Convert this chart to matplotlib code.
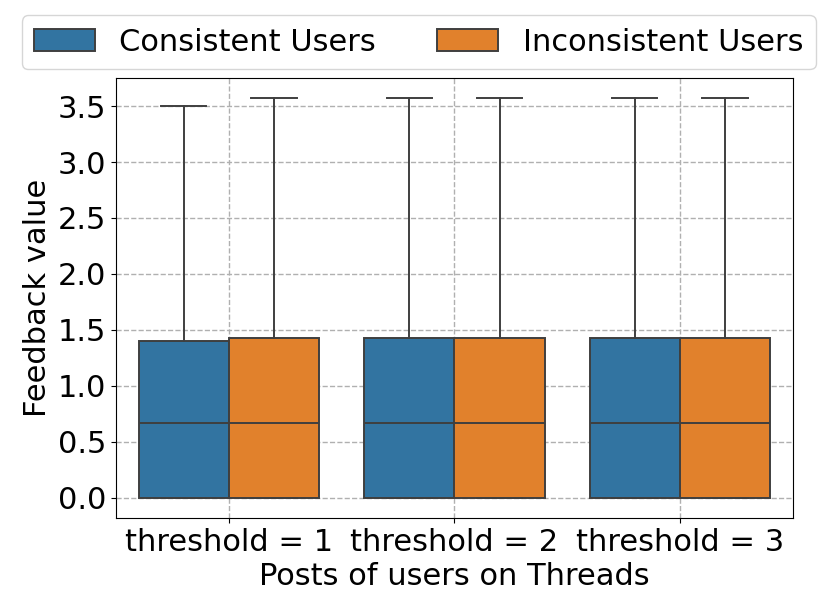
import matplotlib
matplotlib.use('Agg')
import matplotlib.pyplot as plt
from matplotlib.patches import Patch

# dados
categorias = ['threshold = 1', 'threshold = 2', 'threshold = 3']
grupos = ['Consistent Users', 'Inconsistent Users']

cons_q1 = [0.0, 0.0, 0.0]
cons_med = [0.667, 0.667, 0.667]
cons_q3 = [1.40, 1.43, 1.43]
cons_whislo = [0.0, 0.0, 0.0]
cons_whishi = [3.50, 3.57, 3.57]

inc_q1 = [0.0, 0.0, 0.0]
inc_med = [0.667, 0.667, 0.667]
inc_q3 = [1.43, 1.43, 1.43]
inc_whislo = [0.0, 0.0, 0.0]
inc_whishi = [3.57, 3.57, 3.57]

cores = ['#3274a1', '#e1812c']
cor_linha = '#3f3f3f'

plt.rcParams['font.family'] = 'DejaVu Sans'
plt.rcParams['font.size'] = 22

fig = plt.figure(figsize=(8.3, 6.15), dpi=100)
ax = fig.add_axes([0.14, 0.158, 0.815, 0.715])


def monta_stats(q1, med, q3, lo, hi):
    return [dict(q1=a, med=b, q3=c, whislo=d, whishi=e, fliers=[])
            for a, b, c, d, e in zip(q1, med, q3, lo, hi)]


series = [
    monta_stats(cons_q1, cons_med, cons_q3, cons_whislo, cons_whishi),
    monta_stats(inc_q1, inc_med, inc_q3, inc_whislo, inc_whishi),
]
largura = 0.4
deslocs = [-0.2, 0.2]

for stats, cor, d in zip(series, cores, deslocs):
    pos = [i + d for i in range(len(categorias))]
    ax.bxp(stats, positions=pos, widths=largura, patch_artist=True,
           showfliers=False, manage_ticks=False,
           boxprops=dict(facecolor=cor, edgecolor=cor_linha, linewidth=1.4),
           medianprops=dict(color=cor_linha, linewidth=1.4),
           whiskerprops=dict(color=cor_linha, linewidth=1.4),
           capprops=dict(color=cor_linha, linewidth=1.4),
           capwidths=largura / 2)

ax.set_xlim(-0.5, 2.5)
ax.set_xticks(range(len(categorias)))
ax.set_xticklabels(categorias)
ax.set_yticks([0.0, 0.5, 1.0, 1.5, 2.0, 2.5, 3.0, 3.5])
ax.set_ylim(-0.18, 3.75)
ax.set_xlabel('Posts of users on Threads')
ax.set_ylabel('Feedback value')
ax.grid(True, linestyle='--', color='#b0b0b0', linewidth=1)
ax.set_axisbelow(True)

handles = [Patch(facecolor=c, edgecolor=cor_linha, linewidth=1.4) for c in cores]
ax.legend(handles, grupos, loc='lower center', bbox_to_anchor=(0.447, 1.0),
          ncol=2, columnspacing=2.0, borderaxespad=0.3, frameon=True)

fig.savefig('out.png', dpi=100)
